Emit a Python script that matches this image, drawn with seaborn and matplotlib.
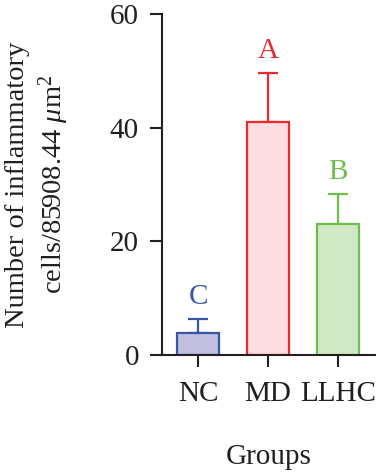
import matplotlib
matplotlib.use('Agg')
import matplotlib.pyplot as plt
import seaborn as sns
import pandas as pd

# values
groups = ['NC', 'MD', 'LLHC']
means = [3.9, 41.0, 23.1]
errors = [2.4, 8.6, 5.2]
letters = ['C', 'A', 'B']
edge_colors = ['#3b55a5', '#ee2a2f', '#6dbf4b']
fill_colors = ['#c1bfe0', '#fcdde1', '#d1e8c6']

sns.set_style('ticks')
plt.rcParams['font.family'] = ['Liberation Serif', 'DejaVu Serif']
plt.rcParams['mathtext.fontset'] = 'custom'
plt.rcParams['mathtext.rm'] = 'Liberation Serif'
plt.rcParams['mathtext.it'] = 'Liberation Serif:italic'

df = pd.DataFrame({'Group': groups, 'Count': means})

fig = plt.figure(figsize=(3.76, 4.74), dpi=100)
ax = fig.add_axes([162 / 376, 1 - 355 / 474, 1 - 162 / 376, 341 / 474])

sns.barplot(data=df, x='Group', y='Count', hue='Group', palette=fill_colors,
            legend=False, width=0.6, saturation=1, ax=ax, zorder=2)

for patch, ec in zip(ax.patches, edge_colors):
    patch.set_edgecolor(ec)
    patch.set_linewidth(1.6)

# upper-only error bars plus the letter labels
for i, (m, e, c, lab) in enumerate(zip(means, errors, edge_colors, letters)):
    ax.errorbar(i, m, yerr=[[0], [e]], color=c, capsize=7, capthick=1.6,
                elinewidth=1.6, zorder=1)
    ax.annotate(lab, (i, m + e), xytext=(0, 16), textcoords='offset points',
                ha='center', va='center', color=c, fontsize=21)

ax.set_xlim(-0.514, 2.54)
ax.set_ylim(0, 60)
ax.set_yticks([0, 20, 40, 60])

sns.despine(ax=ax, right=True, top=True)
ax.spines['left'].set_linewidth(1.5)
ax.spines['bottom'].set_linewidth(1.5)
ax.spines['left'].set_color('#231f20')
ax.spines['bottom'].set_color('#231f20')
ax.tick_params(axis='both', length=8.6, width=1.5, color='#231f20',
               labelsize=21, labelcolor='#231f20', direction='out')
ax.tick_params(axis='y', pad=8)
ax.tick_params(axis='x', pad=10)

ax.set_ylabel('Number of inflammatory\ncells/85908.44 $\\mathit{\\mu}$m$^2$',
              fontsize=20.5, color='#231f20', linespacing=1.25)
ax.yaxis.set_label_coords(-0.425, 0.5)
ax.set_xlabel('Groups', fontsize=21, color='#231f20')
ax.xaxis.set_label_coords(0.5, -0.262)

fig.savefig('out.png', dpi=100)
